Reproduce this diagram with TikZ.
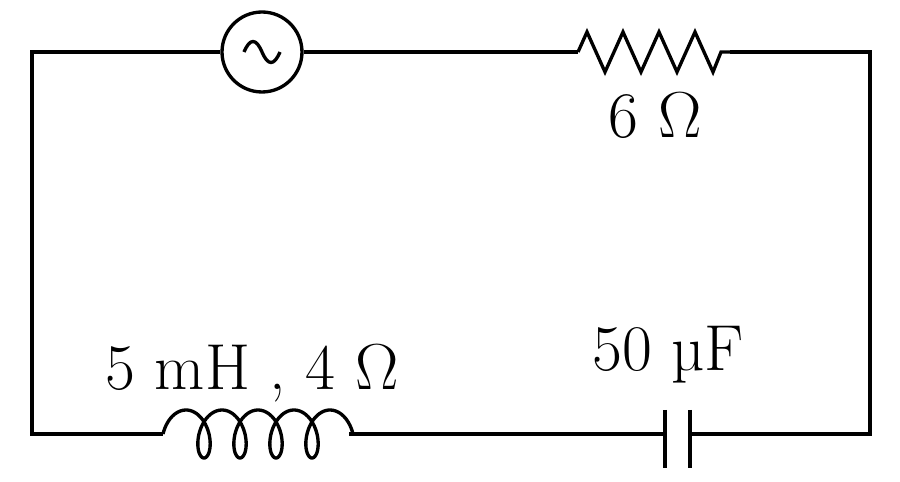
\documentclass[tikz,border=0pt]{standalone}
\begin{document}
\begin{tikzpicture}[x=0.02cm,y=-0.02cm,line width=1.9pt]
\tikzset{
  wire/.style={line width=1.9pt},
  lbl/.style={font=\fontsize{37}{44}\selectfont, inner sep=0pt}
}
\useasboundingbox (0,0) rectangle (900,482);
% corners
\coordinate (tl) at (32,52);
\coordinate (tr) at (870,52);
\coordinate (bl) at (32,434);
\coordinate (br) at (870,434);
% source
\node[circle, draw, wire, minimum size=1.6cm, inner sep=0pt] (src) at (262,52) {};
\draw[wire] (244,52) .. controls (250,38) and (256,38) .. (262,52)
  .. controls (268,66) and (274,66) .. (280,52);
% resistor
\coordinate (ra) at (578,52);
\coordinate (rb) at (730,52);
\draw[wire] (ra) -- (587,32) -- (605,72) -- (623,32) -- (641,72) -- (659,32)
  -- (677,72) -- (695,32) -- (713,72) -- (721,52) -- (rb);
\node[lbl] (rlbl) at (655,115) {6 Ω};
% inductor
\coordinate (la) at (160,434);
\coordinate (lb) at (352,434);
\draw[wire, smooth, samples=240, variable=\t, domain=-90:1530]
  plot ({186+0.1*\t+14*sin(\t)}, {434-24*cos(\t)});
\draw[wire] (la) -- (163,434);
\draw[wire] (349,434) -- (lb);
\node[lbl] (llbl) at (252,373) {5 mH , 4 Ω};
% capacitor
\coordinate (ca) at (665,434);
\coordinate (cb) at (690,434);
\draw[wire] (665,410) -- (665,468);
\draw[wire] (690,410) -- (690,468);
\node[lbl] (clbl) at (668,355) {50 µF};
% wires
\draw[wire] (src.east) -- (ra);
\draw[wire] (rb) -- (tr) -- (br) -- (cb);
\draw[wire] (ca) -- (lb);
\draw[wire] (la) -- (bl) -- (tl) -- (src.west);
\end{tikzpicture}
\end{document}
